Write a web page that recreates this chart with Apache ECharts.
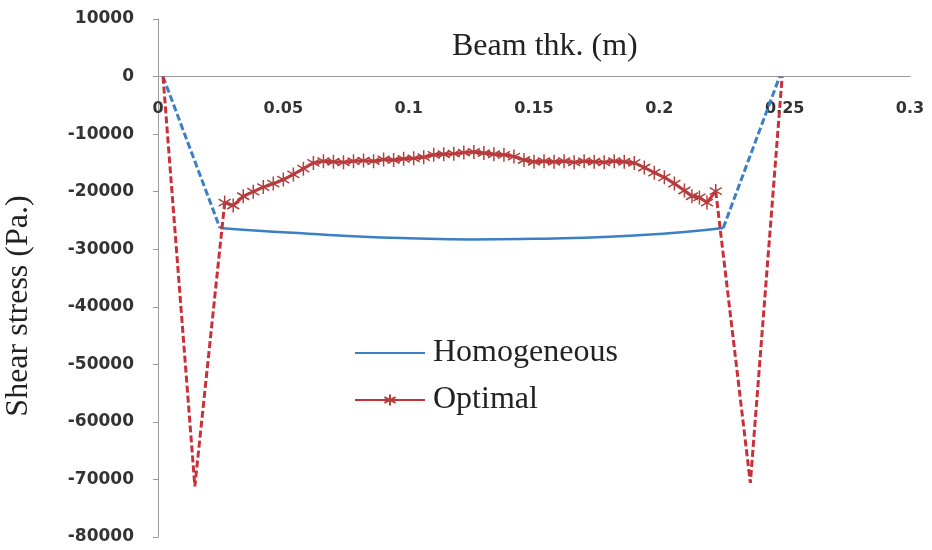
<!DOCTYPE html>
<html>
<head>
    <meta charset="utf-8">
    <title>Shear stress</title>
    <script src="https://cdn.jsdelivr.net/npm/echarts@6/dist/echarts.min.js"></script>
    <style>
        body, html {
            margin: 0;
            background: #fff;
        }

        #main {
            width: 932px;
            height: 550px;
        }
    </style>
</head>
<body>
<div id="main"></div>
<script type="text/javascript">
    // [beam thickness (m), shear stress (Pa.)]
    var homogeneousLeft = [[0.002, 0], [0.0247, -26300]];
    var homogeneous = [
        [0.0247, -26300], [0.04, -26800], [0.06, -27300], [0.08, -27800], [0.1, -28100],
        [0.125, -28300], [0.15, -28200], [0.17, -28000], [0.19, -27600], [0.21, -27000],
        [0.2255, -26300]
    ];
    var homogeneousRight = [[0.2255, -26300], [0.248, 0]];

    var optimalLeft = [[0.002, 0], [0.0147, -71200], [0.0266, -21900]];
    var optimal = [
        [0.0266, -21900], [0.030, -22400], [0.034, -20800], [0.038, -20000], [0.042, -19200],
        [0.046, -18600], [0.050, -17900], [0.054, -17000], [0.058, -16000], [0.062, -15000],
        [0.066, -14700], [0.070, -14800], [0.074, -14900], [0.078, -14700], [0.082, -14600],
        [0.086, -14700], [0.090, -14400], [0.094, -14500], [0.098, -14300], [0.102, -14200],
        [0.106, -14000], [0.110, -13600], [0.114, -13500], [0.118, -13400], [0.122, -13200],
        [0.126, -13100], [0.130, -13300], [0.134, -13500], [0.138, -13600], [0.142, -13900],
        [0.146, -14500], [0.150, -14800], [0.154, -14700], [0.158, -14800], [0.162, -14700],
        [0.166, -14900], [0.170, -14700], [0.174, -14800], [0.178, -14900], [0.182, -14700],
        [0.186, -14800], [0.190, -15000], [0.194, -15800], [0.198, -16700], [0.202, -17500],
        [0.206, -18600], [0.210, -19800], [0.213, -20800], [0.216, -21000], [0.219, -21900],
        [0.2225, -19900]
    ];
    var optimalRight = [[0.2225, -19900], [0.2363, -70600], [0.249, 0]];

    var xMin = 0, xMax = 0.3, xStep = 0.05;
    var yMin = -80000, yMax = 10000, yStep = 10000;

    var blue = '#3b7fc4';
    var red = '#c9303a';
    var starPath = 'path://M5 0L5 10M0.7 2.5L9.3 7.5M0.7 7.5L9.3 2.5';
    var serif = '"Liberation Serif", serif';

    var gridTop = 19, gridBottom = 13;
    var gridHeight = 550 - gridTop - gridBottom;
    // move the x axis up to the y = 0 line
    var xAxisOffset = -gridHeight * (0 - yMin) / (yMax - yMin);

    var myChart = echarts.init(document.getElementById('main'));

    var option = {
        animation: false,
        backgroundColor: '#fff',
        title: {
            text: 'Beam thk. (m)',
            left: 447,
            top: 26,
            textStyle: {
                fontFamily: serif,
                fontSize: 32,
                fontWeight: 'normal',
                color: '#222'
            }
        },
        grid: {
            left: 158,
            right: 22,
            top: gridTop,
            bottom: gridBottom,
            outerBoundsMode: 'none',
            containLabel: false
        },
        legend: {
            data: [
                {name: 'Homogeneous', itemStyle: {opacity: 0}},
                {name: 'Optimal'}
            ],
            orient: 'vertical',
            left: 349,
            top: 330,
            itemWidth: 70,
            itemHeight: 14,
            itemGap: 11,
            textStyle: {
                fontFamily: serif,
                fontSize: 32,
                lineHeight: 36,
                color: '#222',
                padding: [0, 0, 0, 3]
            }
        },
        xAxis: {
            type: 'value',
            min: xMin,
            max: xMax,
            interval: xStep,
            offset: xAxisOffset,
            axisLine: {
                onZero: false,
                lineStyle: {color: '#999', width: 1}
            },
            axisTick: {show: false},
            axisLabel: {
                margin: 24,
                fontFamily: '"DejaVu Sans", sans-serif',
                fontWeight: 'bold',
                fontSize: 16,
                color: '#333'
            },
            splitLine: {show: false}
        },
        yAxis: {
            type: 'value',
            min: yMin,
            max: yMax,
            interval: yStep,
            name: 'Shear stress (Pa.)',
            nameLocation: 'middle',
            nameGap: 123,
            nameTextStyle: {
                fontFamily: serif,
                fontSize: 32,
                color: '#222',
                padding: [0, 56, 0, 0]
            },
            axisLine: {
                show: true,
                lineStyle: {color: '#999', width: 1}
            },
            axisTick: {
                show: true,
                length: 5,
                lineStyle: {color: '#999'}
            },
            axisLabel: {
                margin: 24,
                fontFamily: '"DejaVu Sans", sans-serif',
                fontWeight: 'bold',
                fontSize: 17,
                color: '#333',
                formatter: function (v) {
                    return String(v);
                }
            },
            splitLine: {show: false}
        },
        series: [
            {
                name: 'Homogeneous edge L',
                type: 'line',
                showSymbol: false,
                data: homogeneousLeft,
                lineStyle: {color: blue, width: 3, type: [7, 3]}
            },
            {
                name: 'Homogeneous edge R',
                type: 'line',
                showSymbol: false,
                data: homogeneousRight,
                lineStyle: {color: blue, width: 3, type: [7, 3]}
            },
            {
                name: 'Homogeneous',
                type: 'line',
                symbol: 'none',
                smooth: true,
                data: homogeneous,
                itemStyle: {color: blue},
                lineStyle: {color: blue, width: 2.5}
            },
            {
                name: 'Optimal edge L',
                type: 'line',
                showSymbol: false,
                data: optimalLeft,
                lineStyle: {color: red, width: 3, type: [7, 3]}
            },
            {
                name: 'Optimal edge R',
                type: 'line',
                showSymbol: false,
                data: optimalRight,
                lineStyle: {color: red, width: 3, type: [7, 3]}
            },
            {
                name: 'Optimal',
                type: 'line',
                symbol: starPath,
                symbolSize: 14,
                symbolKeepAspect: true,
                data: optimal,
                itemStyle: {color: red, borderColor: '#b0403e', borderWidth: 1.5},
                lineStyle: {color: red, width: 3}
            }
        ]
    };

    myChart.setOption(option);
</script>
</body>
</html>
